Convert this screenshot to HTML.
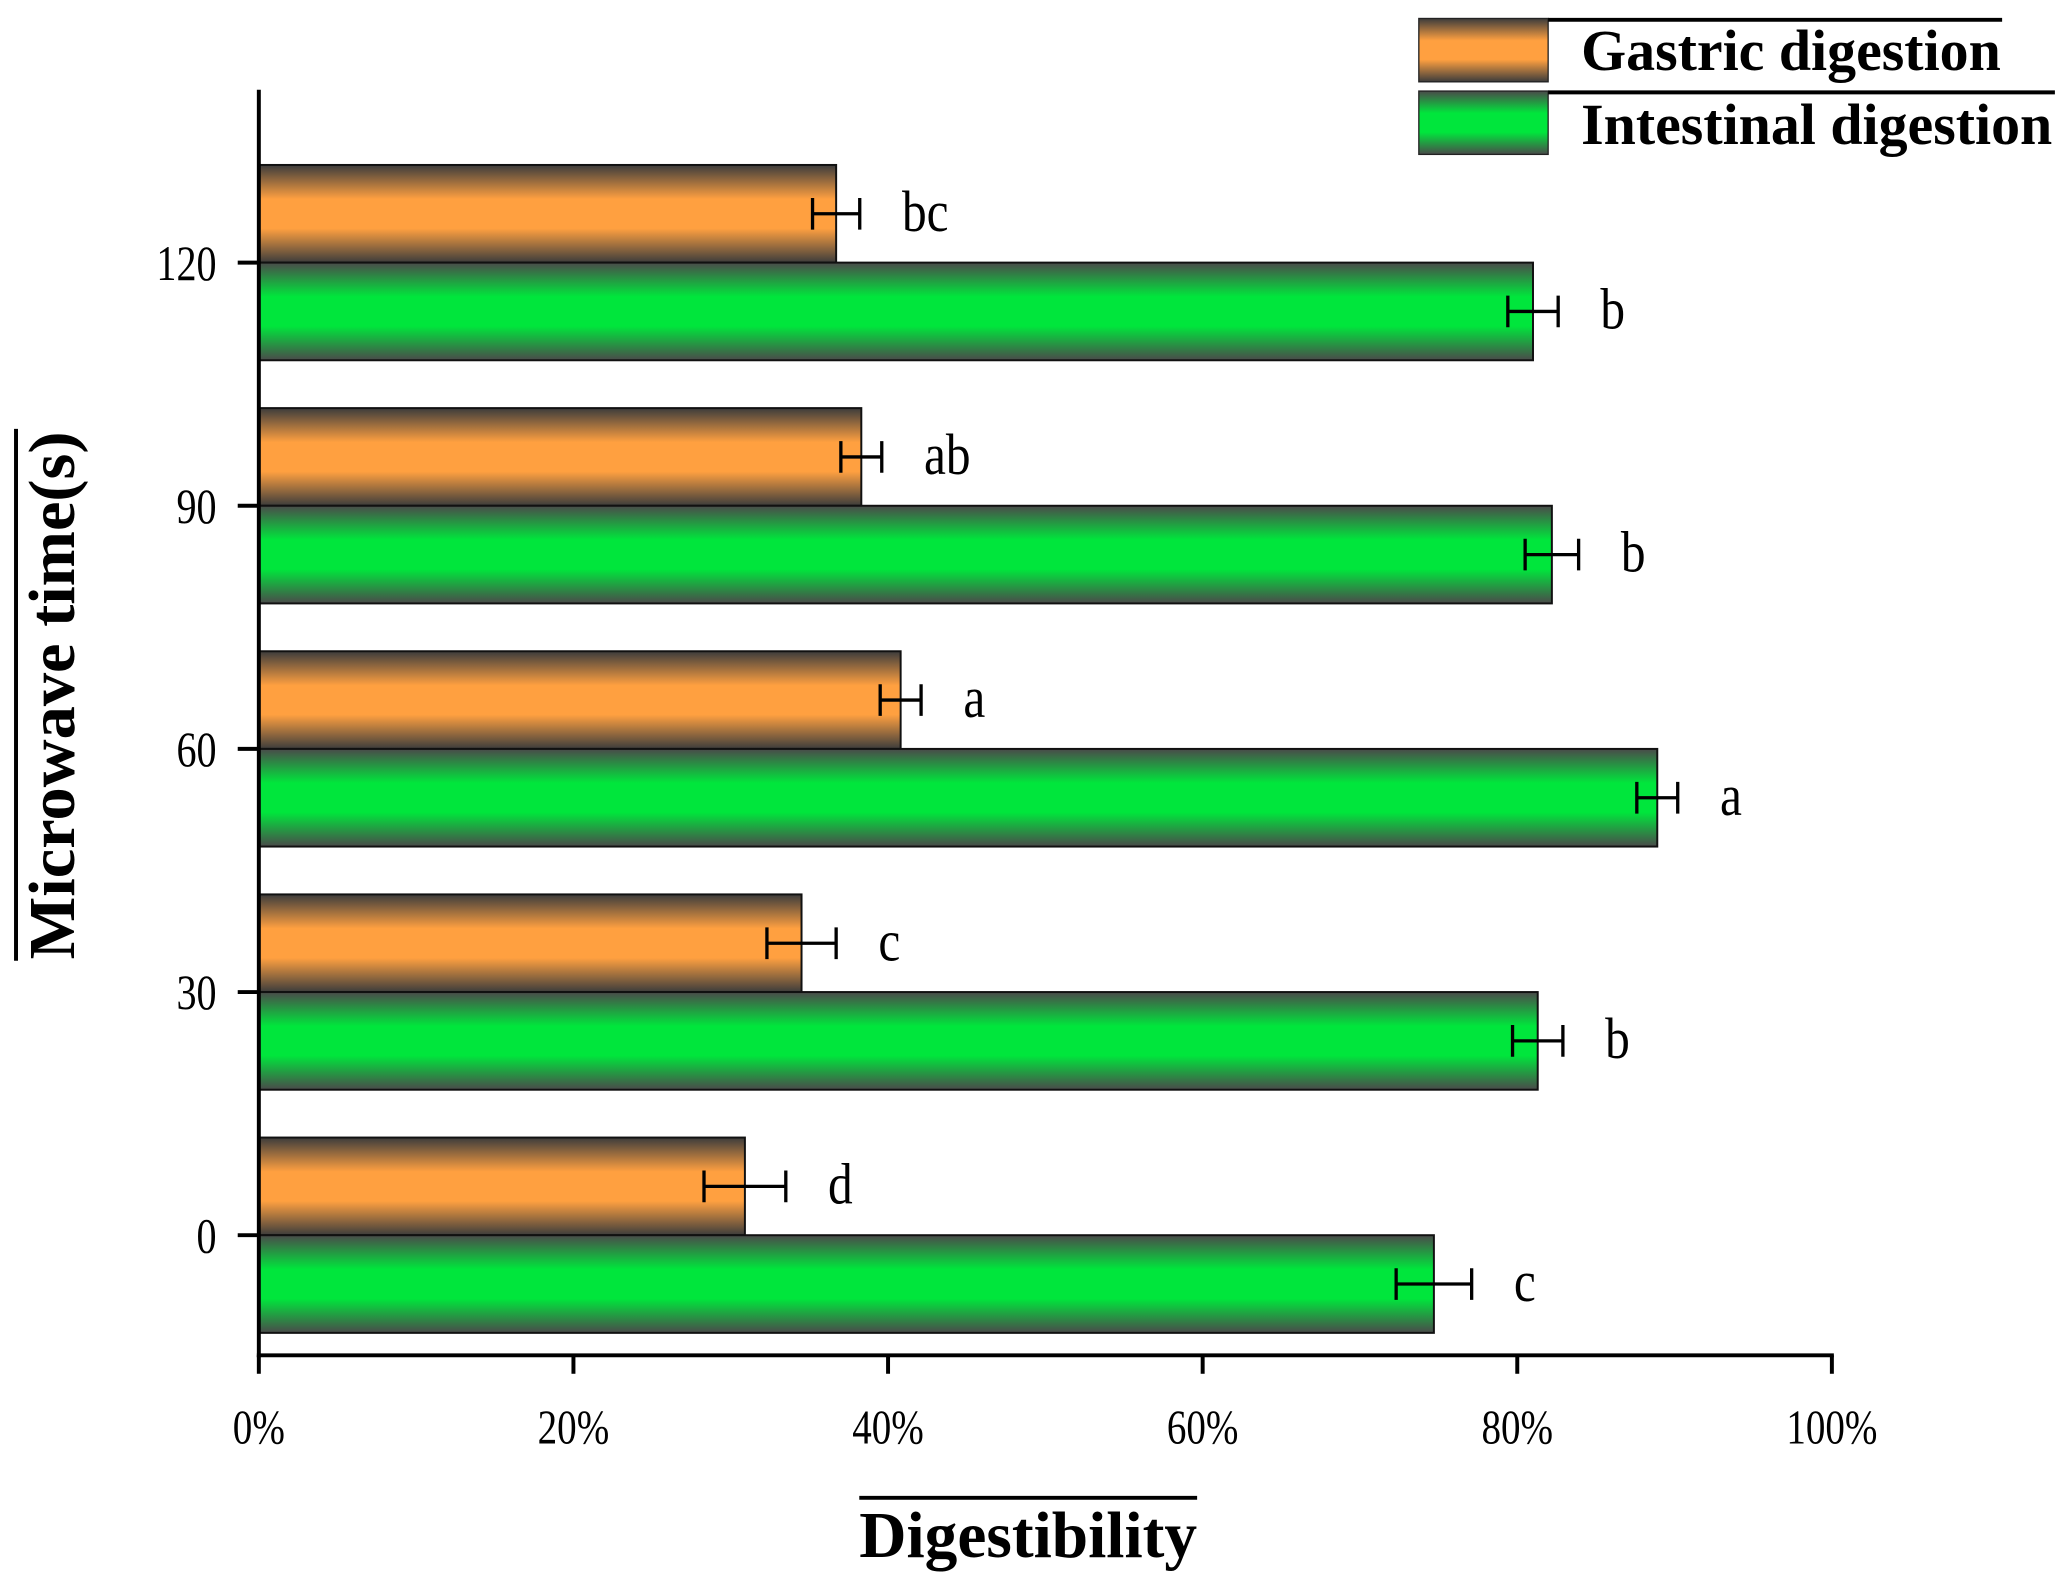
<!DOCTYPE html>
<html><head><meta charset="utf-8"><style>
html,body{margin:0;padding:0;background:#fff;}
svg{display:block;}
text{font-family:"Liberation Serif",serif;}
</style></head><body>
<svg id="chart" width="2063" height="1577" viewBox="0 0 1563 1195" xmlns="http://www.w3.org/2000/svg">
<defs>
<linearGradient id="gOr" x1="0" y1="0" x2="0" y2="1">
<stop offset="0" stop-color="#3c3c3c"/><stop offset="0.35" stop-color="#ffa040"/><stop offset="0.65" stop-color="#ffa040"/><stop offset="1" stop-color="#3c3c3c"/></linearGradient>
<linearGradient id="gGr" x1="0" y1="0" x2="0" y2="1">
<stop offset="0" stop-color="#4a4a4a"/><stop offset="0.35" stop-color="#00e63c"/><stop offset="0.65" stop-color="#00e63c"/><stop offset="1" stop-color="#4a4a4a"/></linearGradient>
</defs>
<g id="plot"></g>
<g>
<rect x="1075" y="14" width="98" height="48" fill="url(#gOr)" stroke="#222" stroke-width="1"/>
<line x1="1173" y1="15" x2="1517" y2="15" stroke="#000" stroke-width="3"/>
<text x="1198" y="53" font-size="44" font-weight="bold" textLength="318" lengthAdjust="spacingAndGlyphs">Gastric digestion</text>
<rect x="1075" y="69" width="98" height="48" fill="url(#gGr)" stroke="#222" stroke-width="1"/>
<line x1="1173" y1="70" x2="1557" y2="70" stroke="#000" stroke-width="3"/>
<text x="1198" y="109" font-size="44" font-weight="bold" textLength="357" lengthAdjust="spacingAndGlyphs">Intestinal digestion</text>
</g>
<line x1="12" y1="325" x2="12" y2="728" stroke="#000" stroke-width="3"/>
<text transform="translate(56,527) rotate(-90)" text-anchor="middle" font-size="50" font-weight="bold" textLength="400" lengthAdjust="spacingAndGlyphs">Microwave time(s)</text>
<line x1="651" y1="1135" x2="907" y2="1135" stroke="#000" stroke-width="3"/>
<text x="779" y="1180" text-anchor="middle" font-size="50" font-weight="bold" textLength="256" lengthAdjust="spacingAndGlyphs">Digestibility</text>
</svg>
<script>
const categories=[0,30,60,90,120];
const gastric=[30.9,34.5,40.8,38.3,36.7];
const gastricErr=[2.6,2.2,1.3,1.3,1.5];
const gastricLetters=["d","c","a","ab","bc"];
const intestinal=[74.7,81.3,88.9,82.2,81.0];
const intestinalErr=[2.4,1.6,1.3,1.7,1.6];
const intestinalLetters=["c","b","a","b","b"];
const xTicks=[0,20,40,60,80,100];

const NS="http://www.w3.org/2000/svg";
const g=document.getElementById('plot');
const X0=196,X1=1388,Y0=936,Y1=199,AXY=1027;
function xs(v){return X0+(X1-X0)*v/100;}
function ys(c){return Y0+(Y1-Y0)*(c-0)/(120-0);}
function el(t,a){const e=document.createElementNS(NS,t);for(const k in a)e.setAttribute(k,a[k]);g.appendChild(e);return e;}
const BH=74;
function series(vals,errs,letters,fill,offset,name){
  categories.forEach((c,i)=>{
    const y=ys(c)+offset;
    const r=el('rect',{x:X0,y:y,width:xs(vals[i])-X0,height:BH,fill:fill,stroke:'#111','stroke-width':1.5});
    
    
    const cy=y+BH/2,a=xs(vals[i]-errs[i]),b=xs(vals[i]+errs[i]);
    const eb=el('path',{d:`M${a} ${cy}H${b}M${a} ${cy-12}V${cy+12}M${b} ${cy-12}V${cy+12}`,stroke:'#000','stroke-width':2.5,fill:'none'});
    
    
    const t=el('text',{transform:`translate(${b+32},${cy+13}) scale(0.85,1)`,'font-size':44});
    t.textContent=letters[i];
    
    
  });
}
series(gastric,gastricErr,gastricLetters,'url(#gOr)',-BH,'gastric');
series(intestinal,intestinalErr,intestinalLetters,'url(#gGr)',0,'intestinal');
const ya=el('line',{x1:X0,y1:68,x2:X0,y2:AXY+1.5,stroke:'#000','stroke-width':3});


const xa=el('line',{x1:X0-1.5,y1:AXY,x2:X1+1.5,y2:AXY,stroke:'#000','stroke-width':3});


xTicks.forEach(v=>{
  el('line',{x1:xs(v),y1:AXY,x2:xs(v),y2:AXY+14,stroke:'#000','stroke-width':3});
  const t=el('text',{transform:`translate(${xs(v)},${AXY+67}) scale(0.8,1)`,'text-anchor':'middle','font-size':37});
  t.textContent=v+'%';
  
  
});
categories.forEach(c=>{
  el('line',{x1:X0-16,y1:ys(c),x2:X0,y2:ys(c),stroke:'#000','stroke-width':3});
  const t=el('text',{transform:`translate(${X0-32},${ys(c)+13}) scale(0.8,1)`,'text-anchor':'end','font-size':38});
  t.textContent=c;
  
  
});
</script>
</body></html>
